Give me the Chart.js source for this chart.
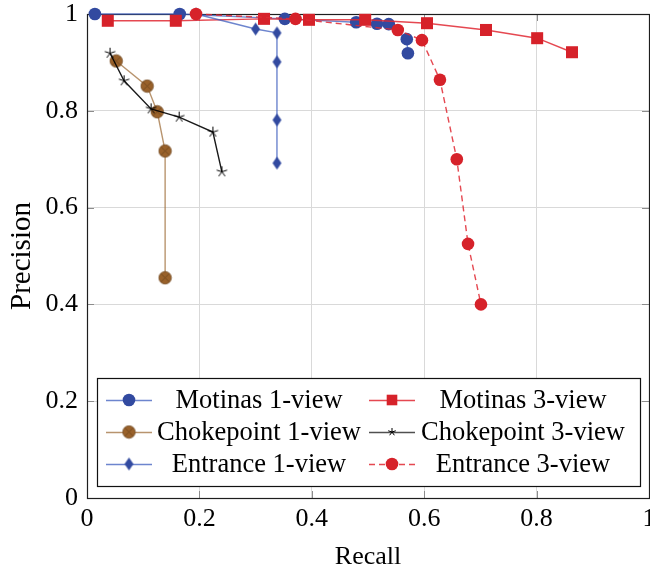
<!DOCTYPE html>
<html><head><meta charset="utf-8">
<script src="https://cdn.jsdelivr.net/npm/chart.js@4/dist/chart.umd.min.js"></script>
<style>html,body{margin:0;padding:0;background:#fff;overflow:hidden}#wrap{width:650px;height:565px;position:relative}</style>
</head><body><div id="wrap"><canvas id="c" width="650" height="565"></canvas></div>
<script>
// ---- data ----
const seriesNames = ['Motinas 1-view', 'Motinas 3-view', 'Chokepoint 1-view', 'Chokepoint 3-view', 'Entrance 1-view', 'Entrance 3-view'];
const motinas1Recall    = [0.014, 0.165, 0.352, 0.479, 0.516, 0.537, 0.569, 0.571];
const motinas1Precision = [1.000, 1.000, 0.990, 0.983, 0.980, 0.979, 0.948, 0.919];
const motinas3Recall    = [0.037, 0.158, 0.315, 0.395, 0.495, 0.605, 0.710, 0.801, 0.863];
const motinas3Precision = [0.986, 0.986, 0.990, 0.988, 0.988, 0.981, 0.967, 0.950, 0.921];
const choke1Recall      = [0.052, 0.107, 0.125, 0.139, 0.139];
const choke1Precision   = [0.903, 0.851, 0.798, 0.717, 0.455];
const choke3Recall      = [0.041, 0.066, 0.114, 0.164, 0.224, 0.240];
const choke3Precision   = [0.919, 0.862, 0.804, 0.787, 0.756, 0.674];
const entrance1Recall   = [0.194, 0.300, 0.338, 0.338, 0.338, 0.338];
const entrance1Precision= [1.000, 0.969, 0.961, 0.901, 0.781, 0.692];
const entrance3Recall   = [0.194, 0.371, 0.553, 0.596, 0.628, 0.658, 0.678, 0.701];
const entrance3Precision= [1.000, 0.990, 0.967, 0.946, 0.864, 0.700, 0.525, 0.400];
const xTickLabels = ['0', '0.2', '0.4', '0.6', '0.8', '1'];
const yTickLabels = ['0', '0.2', '0.4', '0.6', '0.8', '1'];
const xTitle = 'Recall';
const yTitle = 'Precision';

// ---- styles ----
const FONT = 'Liberation Serif';
const blue = 'rgb(50,74,160)', blueLine = 'rgba(60,92,190,0.75)';
const red = 'rgb(214,34,42)', redLine = 'rgba(224,40,50,0.85)';
const brown = 'rgb(153,97,42)', brownLine = 'rgba(160,112,62,0.75)';
const blackLine = 'rgba(0,0,0,0.9)';

function mkCanvas(w, h, fn) { const c = document.createElement('canvas'); c.width = w; c.height = h; fn(c.getContext('2d'), w / 2, h / 2); return c; }
const diamondImg = mkCanvas(11, 15, (g, cx, cy) => {
  g.fillStyle = blue; g.beginPath(); g.moveTo(cx, cy - 6.5); g.lineTo(cx + 4.5, cy); g.lineTo(cx, cy + 6.5); g.lineTo(cx - 4.5, cy); g.closePath(); g.fill();
});
const starImg = mkCanvas(13, 13, (g, cx, cy) => {
  g.strokeStyle = '#000'; g.lineWidth = 1; g.beginPath();
  for (let k = 0; k < 5; k++) { const a = -Math.PI / 2 + k * 2 * Math.PI / 5; g.moveTo(cx, cy); g.lineTo(cx + 5.5 * Math.cos(a), cy + 5.5 * Math.sin(a)); }
  g.stroke();
});
const otimesImg = mkCanvas(15, 15, (g, cx, cy) => {
  g.fillStyle = brown; g.strokeStyle = 'rgb(110,70,30)'; g.lineWidth = 0.8;
  g.beginPath(); g.arc(cx, cy, 6.2, 0, Math.PI * 2); g.fill(); g.stroke();
  const d = 6.2 * Math.SQRT1_2; g.beginPath(); g.moveTo(cx - d, cy - d); g.lineTo(cx + d, cy + d); g.moveTo(cx + d, cy - d); g.lineTo(cx - d, cy + d); g.stroke();
});

function pts(xs, ys) { return xs.map((x, i) => ({ x: x, y: ys[i] })); }
const common = { showLine: true, fill: false, tension: 0, clip: false, borderWidth: 1.4, pointBorderWidth: 0, pointHoverRadius: 0 };
const datasets = [
  Object.assign({}, common, { label: seriesNames[0], data: pts(motinas1Recall, motinas1Precision), borderColor: blueLine, pointBackgroundColor: blue, pointBorderColor: blue, pointStyle: 'circle', pointRadius: 6.3, order: 6 }),
  Object.assign({}, common, { label: seriesNames[1], data: pts(motinas3Recall, motinas3Precision), borderColor: redLine, pointBackgroundColor: red, pointBorderColor: red, pointStyle: 'rect', pointRadius: 8.5, order: 5 }),
  Object.assign({}, common, { label: seriesNames[2], data: pts(choke1Recall, choke1Precision), borderColor: brownLine, pointStyle: otimesImg, pointRadius: 6, order: 4 }),
  Object.assign({}, common, { label: seriesNames[3], data: pts(choke3Recall, choke3Precision), borderColor: blackLine, pointStyle: starImg, pointRadius: 6, order: 3 }),
  Object.assign({}, common, { label: seriesNames[4], data: pts(entrance1Recall, entrance1Precision), borderColor: blueLine, pointStyle: diamondImg, pointRadius: 6, order: 2 }),
  Object.assign({}, common, { label: seriesNames[5], data: pts(entrance3Recall, entrance3Precision), borderColor: redLine, borderDash: [6, 4], pointBackgroundColor: red, pointBorderColor: red, pointStyle: 'circle', pointRadius: 6.3, order: 1 })
];

const framePlugin = {
  id: 'frame',
  beforeDatasetsDraw(chart) {
    const { ctx, chartArea: a, scales } = chart;
    ctx.save();
    ctx.strokeStyle = 'rgb(140,140,140)'; ctx.lineWidth = 1; ctx.beginPath();
    xTickLabels.forEach(t => { const px = Math.round(scales.x.getPixelForValue(parseFloat(t))) + 0.5; ctx.moveTo(px, a.bottom); ctx.lineTo(px, a.bottom - 7); ctx.moveTo(px, a.top); ctx.lineTo(px, a.top + 7); });
    yTickLabels.forEach(t => { const py = Math.round(scales.y.getPixelForValue(parseFloat(t))) + 0.5; ctx.moveTo(a.left, py); ctx.lineTo(a.left + 7, py); ctx.moveTo(a.right, py); ctx.lineTo(a.right - 7, py); });
    ctx.stroke();
    ctx.strokeStyle = 'rgb(30,30,30)'; ctx.lineWidth = 1.2;
    ctx.strokeRect(Math.round(a.left) + 0.5, Math.round(a.top) + 0.5, Math.round(a.right - a.left), Math.round(a.bottom - a.top));
    ctx.restore();
  },
  afterDraw(chart) {
    const ctx = chart.ctx;
    const box = { l: 97, t: 378, r: 640, b: 486 };
    ctx.save();
    ctx.fillStyle = '#fff'; ctx.fillRect(box.l, box.t, box.r - box.l, box.b - box.t);
    ctx.strokeStyle = '#111'; ctx.lineWidth = 1.2; ctx.strokeRect(box.l + 0.5, box.t + 0.5, box.r - box.l, box.b - box.t);
    const cols = [{ s0: 106, s1: 152, tc: 259 }, { s0: 369, s1: 415, tc: 523 }];
    const rows = [400, 432, 464];
    ctx.font = '26.5px "' + FONT + '"'; ctx.textAlign = 'center'; ctx.textBaseline = 'middle'; ctx.fillStyle = '#000';
    datasets.forEach((ds, k) => {
      const di = k; const col = cols[k % 2]; const y = rows[Math.floor(k / 2)];
      const cx = (col.s0 + col.s1) / 2;
      ctx.save();
      let lc = ds.borderColor; if (di === 3) lc = 'rgb(80,80,80)';
      ctx.strokeStyle = lc; ctx.lineWidth = 1.6; if (ds.borderDash) ctx.setLineDash(ds.borderDash);
      ctx.beginPath(); ctx.moveTo(col.s0, y + 0.5); ctx.lineTo(col.s1, y + 0.5); ctx.stroke(); ctx.setLineDash([]);
      ctx.fillStyle = ds.pointBackgroundColor || '#000'; ctx.strokeStyle = ds.pointBorderColor || '#000';
      if (di === 3) {
        ctx.strokeStyle = '#000'; ctx.lineWidth = 1; ctx.beginPath();
        for (let q = 0; q < 5; q++) { const an = -Math.PI / 2 + q * 2 * Math.PI / 5; ctx.moveTo(cx, y); ctx.lineTo(cx + 4 * Math.cos(an), y + 4 * Math.sin(an)); }
        ctx.stroke();
      } else {
        const rad = di === 1 ? 7.5 : ds.pointRadius;
        Chart.helpers.drawPoint(ctx, { pointStyle: ds.pointStyle, radius: rad, borderWidth: 0, rotation: 0 }, cx, y);
      }
      ctx.restore();
      ctx.fillText(ds.label, col.tc, y + 1);
    });
    ctx.restore();
  }
};

const tickFont = { family: FONT, size: 26 };
const xTitleFont = { family: FONT, size: 26, lineHeight: 1 };
const yTitleFont = { family: FONT, size: 29, lineHeight: 1 };
new Chart(document.getElementById('c'), {
  type: 'scatter',
  data: { datasets: datasets },
  plugins: [framePlugin],
  options: {
    responsive: false, animation: false, devicePixelRatio: 1,
    layout: { autoPadding: false, padding: { top: 14, right: 1, left: 0, bottom: 0 } },
    plugins: { legend: { display: false }, tooltip: { enabled: false } },
    events: [],
    scales: {
      x: {
        type: 'linear', min: 0, max: 1,
        ticks: { stepSize: 0.2, padding: 6, font: tickFont, color: '#000', maxRotation: 0, autoSkip: false,
          callback: (v) => xTickLabels[Math.round(v * 5)] },
        grid: { color: 'rgb(217,217,217)', lineWidth: 1, drawTicks: false },
        border: { display: false },
        title: { display: true, text: xTitle, font: xTitleFont, color: '#000', padding: { top: 0, bottom: -5 } },
        afterFit(s) { s.height = 67; s.paddingLeft = 0; s.paddingRight = 0; }
      },
      y: {
        type: 'linear', min: 0, max: 1,
        ticks: { stepSize: 0.2, padding: 9, font: tickFont, color: '#000', autoSkip: false,
          callback: (v) => yTickLabels[Math.round(v * 5)] },
        grid: { color: 'rgb(217,217,217)', lineWidth: 1, drawTicks: false },
        border: { display: false },
        title: { display: true, text: yTitle, font: yTitleFont, color: '#000', padding: { top: 7.5, bottom: 0 } },
        afterFit(s) { s.width = 87; s.paddingTop = 0; s.paddingBottom = 0; }
      }
    }
  }
});
</script></body></html>
